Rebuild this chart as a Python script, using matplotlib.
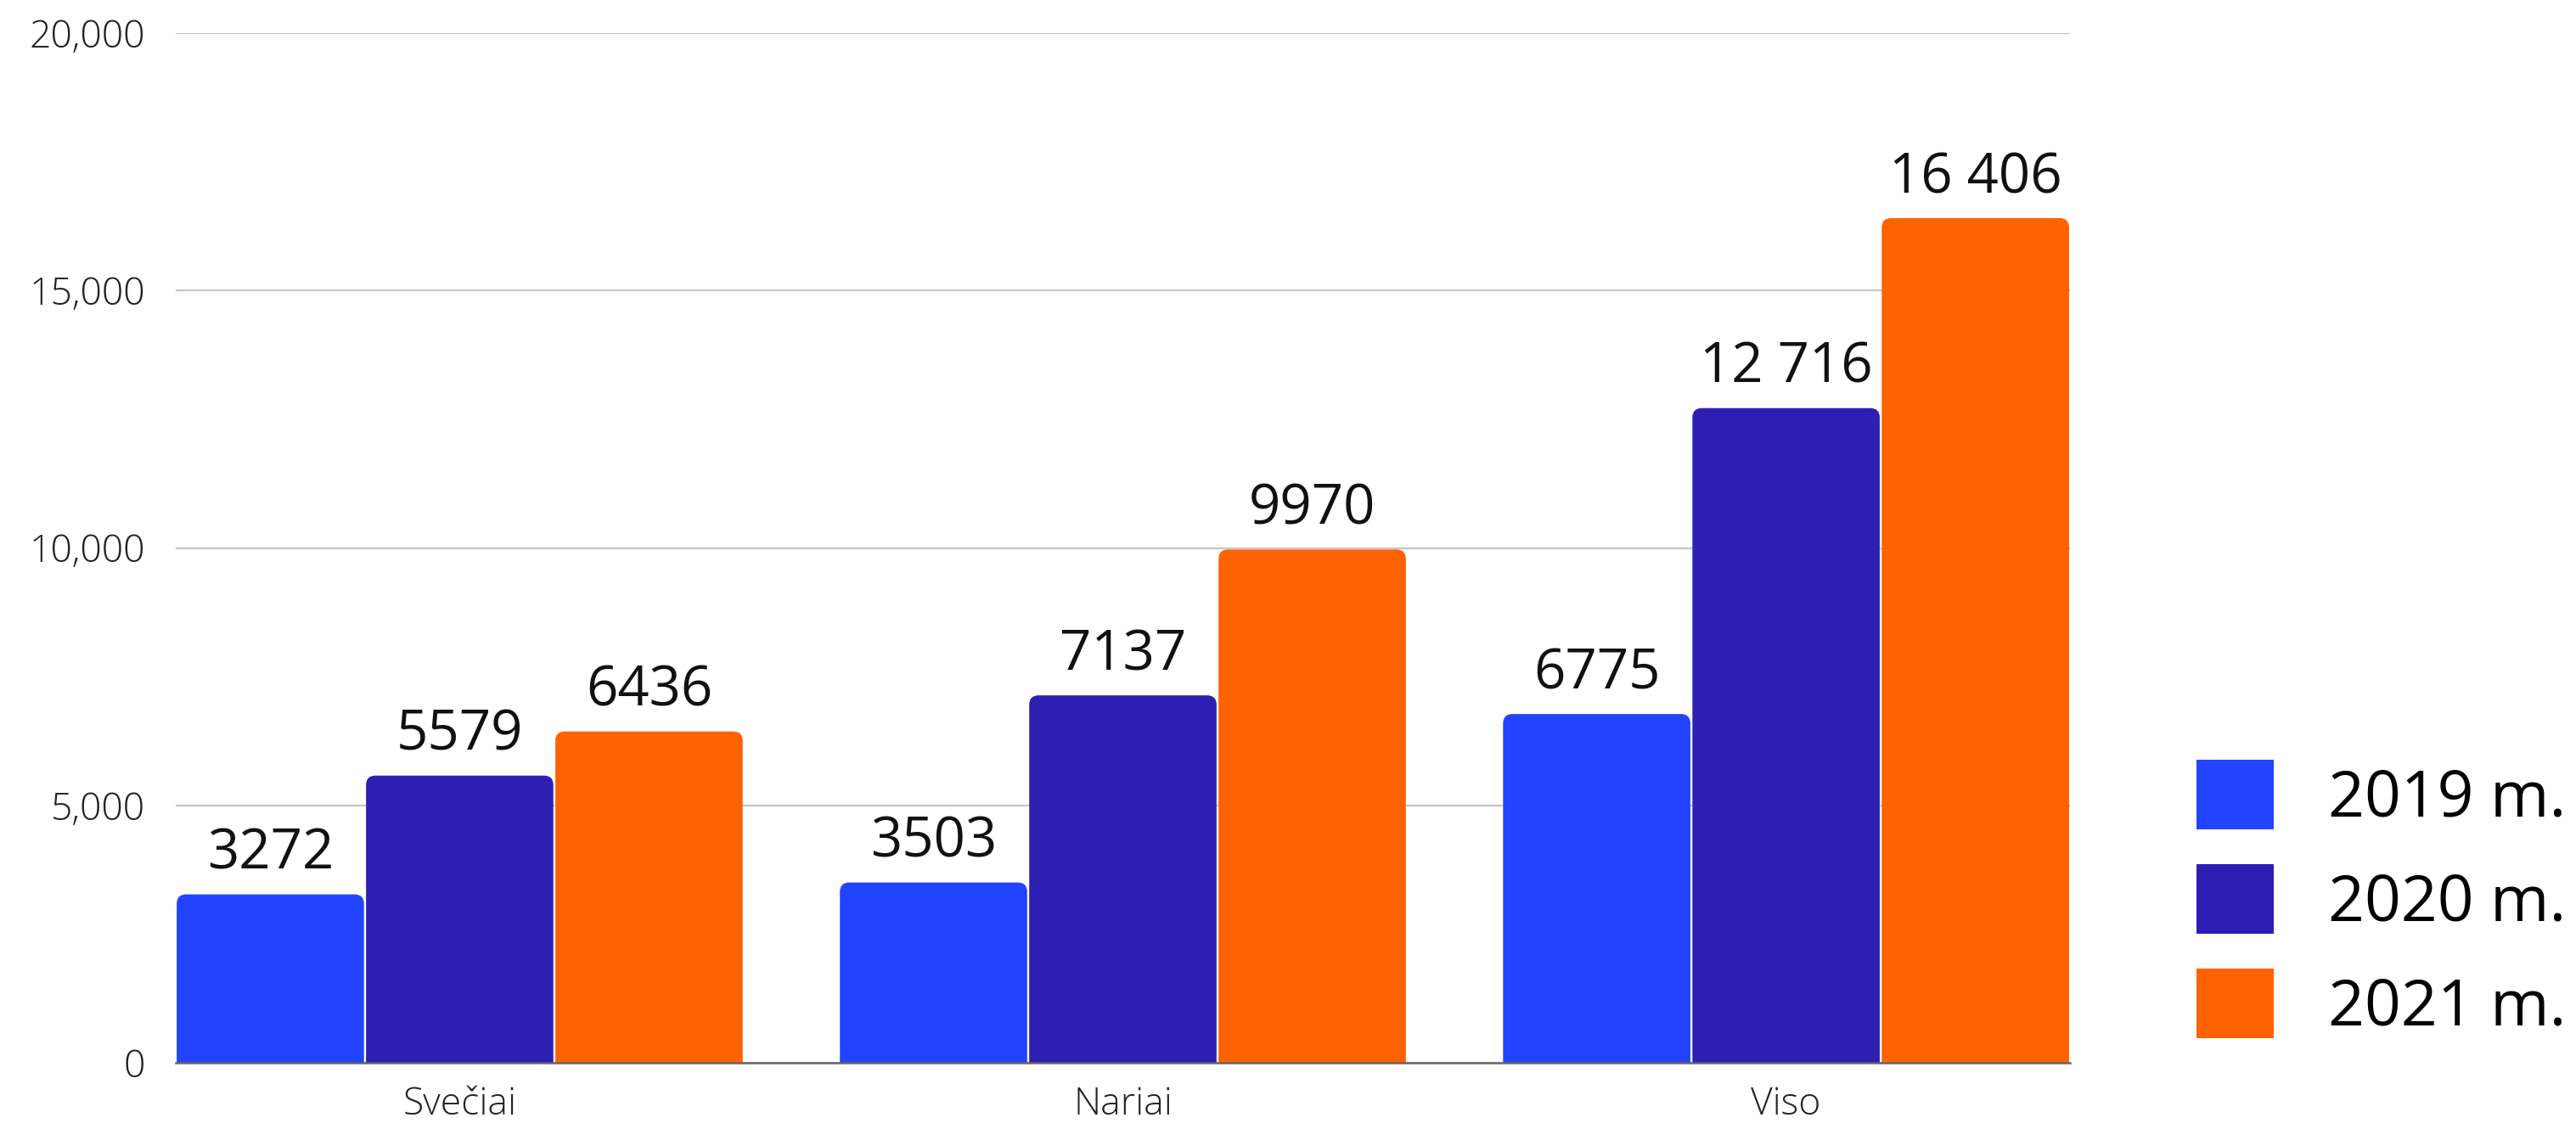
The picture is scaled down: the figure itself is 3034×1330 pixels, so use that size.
import matplotlib
matplotlib.use("Agg")
import matplotlib.pyplot as plt
from matplotlib.patches import FancyBboxPatch, Patch
import numpy as np

# data
categories = ["Svečiai", "Nariai", "Viso"]
years = ["2019 m.", "2020 m.", "2021 m."]
values_2019 = [3272, 3503, 6775]
values_2020 = [5579, 7137, 12716]
values_2021 = [6436, 9970, 16406]
y_ticks = [0, 5000, 10000, 15000, 20000]

colors = ["#2244FF", "#2E1FB3", "#FF6200"]

plt.rcParams["font.family"] = ["Open Sans", "DejaVu Sans"]


def fmt_value(v):
    # Lithuanian style: space as thousands separator only above 9999
    if v >= 10000:
        return f"{v:,}".replace(",", " ")
    return str(v)


fig = plt.figure(figsize=(30.34, 13.30), dpi=100)
ax = fig.add_axes([0.0682, 0.0586, 0.8036 - 0.0682, 0.9707 - 0.0586])

x = np.arange(len(categories))
width = 0.2855
series = [values_2019, values_2020, values_2021]

# pixel -> data conversion for rounded corners
ax.set_ylim(0, 20000)
ax.set_xlim(-1.5 * width, len(categories) - 1 + 1.5 * width)
fig.canvas.draw()
bbox = ax.get_window_extent()
x_per_px = (ax.get_xlim()[1] - ax.get_xlim()[0]) / bbox.width
y_per_px = 20000 / bbox.height
radius_px = 11

for i, vals in enumerate(series):
    bars = ax.bar(x + (i - 1) * width, vals, width, color=colors[i])
    for bar, v in zip(bars, vals):
        bar.set_visible(False)
        r = radius_px * x_per_px
        extra = radius_px * 2 * y_per_px
        p = FancyBboxPatch(
            (bar.get_x() + 1.2 * x_per_px, -extra),
            bar.get_width() - 2.4 * x_per_px,
            bar.get_height() + extra,
            boxstyle=f"round,pad=0,rounding_size={r}",
            mutation_aspect=y_per_px / x_per_px,
            facecolor=colors[i], edgecolor="none", zorder=3,
        )
        ax.add_patch(p)
        ax.annotate(fmt_value(v), (bar.get_x() + bar.get_width() / 2, v),
                    xytext=(0, 10), textcoords="offset points",
                    ha="center", va="bottom", fontsize=47, color="#111111")

ax.set_yticks(y_ticks)
ax.set_yticklabels([f"{t:,}" for t in y_ticks])
ax.set_xticks(x)
ax.set_xticklabels(categories)
ax.tick_params(axis="y", length=0, pad=26, labelsize=32, labelcolor="#222222")
ax.tick_params(axis="x", length=0, pad=20, labelsize=32, labelcolor="#222222")
for lab in ax.get_yticklabels() + ax.get_xticklabels():
    lab.set_fontweight("light")

ax.grid(axis="y", color="#c6c6c6", linewidth=1.6, zorder=0)
ax.set_axisbelow(True)
for s in ["top", "right", "left"]:
    ax.spines[s].set_visible(False)
ax.spines["bottom"].set_color("#666666")
ax.spines["bottom"].set_linewidth(1.8)
ax.spines["bottom"].set_zorder(4)

handles = [Patch(facecolor=c, edgecolor="none") for c in colors]
fig.legend(handles, years, loc="upper left", bbox_to_anchor=(0.8527, 0.327),
           frameon=False, fontsize=54, handlelength=1.21, handleheight=1.3,
           handletextpad=0.86, labelspacing=0.52, borderpad=0, borderaxespad=0)

fig.savefig("out.png", dpi=100)
